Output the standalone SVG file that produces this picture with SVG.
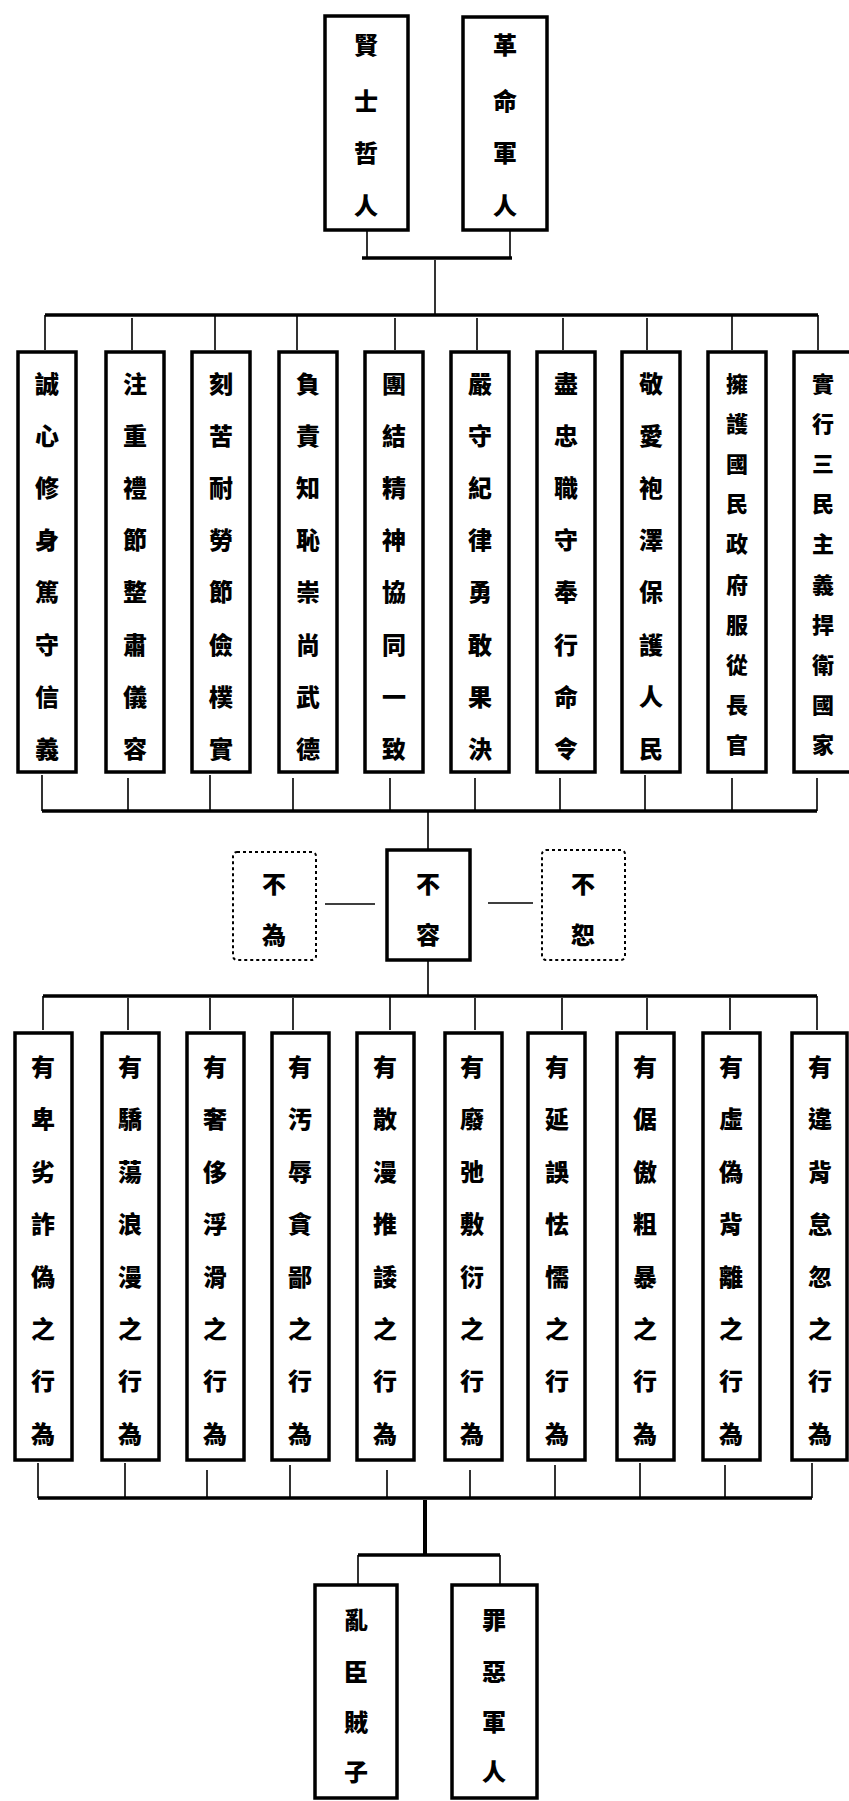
<svg xmlns="http://www.w3.org/2000/svg" width="849" height="1801" viewBox="0 0 849 1801">
<style>
.box{fill:none;stroke:#000;stroke-width:3.5}
.dot{fill:none;stroke:#000;stroke-width:2;stroke-dasharray:3 3}
.bus{stroke:#000;stroke-width:3.5;fill:none}
.tick{stroke:#000;stroke-width:1.6;fill:none}
.t{font-family:"Noto Sans CJK TC","Noto Sans CJK SC",sans-serif;font-weight:900;font-size:24px;text-anchor:middle;dominant-baseline:central;fill:#000}
.s{font-size:22px}
</style>
<rect width="849" height="1801" fill="#fff"/>
<g id="connectors">
<path class="tick" d="M367 230V258M510 230V258"/>
<path class="bus" d="M362 258H512"/>
<path class="tick" d="M435 260V315"/>
<path class="bus" d="M45 315H818"/>
<path class="tick" d="M45 315V350M132 318V350M215 315V350M297 315V350M395 318V350M477 318V350M563 318V350M647 318V350M732 315V350M818 315V350"/>
<path class="tick" d="M42 775V811M128 778V811M210 775V811M293 778V811M390 778V811M475 778V811M560 778V811M645 775V811M732 778V811M817 778V811"/>
<path class="bus" d="M42 811H817"/>
<path class="tick" d="M428 811V850M428 960V996"/>
<path class="tick" d="M325 904H375M488 903H533"/>
<path class="bus" d="M43 996H817"/>
<path class="tick" d="M43 996V1030M128 998V1030M210 998V1030M293 998V1030M390 996V1030M475 998V1030M562 998V1030M647 998V1030M730 998V1030M817 996V1030"/>
<path class="tick" d="M38 1463V1498M125 1463V1498M207 1470V1498M290 1465V1498M387 1470V1498M470 1470V1498M555 1465V1498M640 1463V1498M725 1465V1498M812 1463V1498"/>
<path class="bus" d="M38 1498H812"/>
<path class="bus" d="M425 1500V1555" style="stroke-width:4"/>
<path class="bus" d="M358 1555H500"/>
<path class="tick" d="M358 1555V1585M500 1555V1585"/>
</g>
<g id="n-xianshi"><rect class="box" x="325" y="16" width="83" height="214"/><text class="t"><tspan x="366" y="43">賢</tspan><tspan x="366" y="99">士</tspan><tspan x="366" y="151">哲</tspan><tspan x="366" y="204">人</tspan></text></g>
<g id="n-geming"><rect class="box" x="463" y="17" width="84" height="213"/><text class="t"><tspan x="505" y="43">革</tspan><tspan x="505" y="99">命</tspan><tspan x="505" y="151">軍</tspan><tspan x="505" y="204">人</tspan></text></g>

<g id="a1"><rect class="box" x="18" y="352" width="58" height="420"/><text class="t"><tspan x="47" y="382">誠</tspan><tspan x="47" y="434">心</tspan><tspan x="47" y="486">修</tspan><tspan x="47" y="538">身</tspan><tspan x="47" y="590">篤</tspan><tspan x="47" y="643">守</tspan><tspan x="47" y="695">信</tspan><tspan x="47" y="747">義</tspan></text></g>
<g id="a2"><rect class="box" x="106" y="352" width="58" height="420"/><text class="t"><tspan x="135" y="382">注</tspan><tspan x="135" y="434">重</tspan><tspan x="135" y="486">禮</tspan><tspan x="135" y="538">節</tspan><tspan x="135" y="590">整</tspan><tspan x="135" y="643">肅</tspan><tspan x="135" y="695">儀</tspan><tspan x="135" y="747">容</tspan></text></g>
<g id="a3"><rect class="box" x="192" y="352" width="58" height="420"/><text class="t"><tspan x="221" y="382">刻</tspan><tspan x="221" y="434">苦</tspan><tspan x="221" y="486">耐</tspan><tspan x="221" y="538">勞</tspan><tspan x="221" y="590">節</tspan><tspan x="221" y="643">儉</tspan><tspan x="221" y="695">樸</tspan><tspan x="221" y="747">實</tspan></text></g>
<g id="a4"><rect class="box" x="279" y="352" width="58" height="420"/><text class="t"><tspan x="308" y="382">負</tspan><tspan x="308" y="434">責</tspan><tspan x="308" y="486">知</tspan><tspan x="308" y="538">恥</tspan><tspan x="308" y="590">崇</tspan><tspan x="308" y="643">尚</tspan><tspan x="308" y="695">武</tspan><tspan x="308" y="747">德</tspan></text></g>
<g id="a5"><rect class="box" x="365" y="352" width="58" height="420"/><text class="t"><tspan x="394" y="382">團</tspan><tspan x="394" y="434">結</tspan><tspan x="394" y="486">精</tspan><tspan x="394" y="538">神</tspan><tspan x="394" y="590">協</tspan><tspan x="394" y="643">同</tspan><tspan x="394" y="695">一</tspan><tspan x="394" y="747">致</tspan></text></g>
<g id="a6"><rect class="box" x="451" y="352" width="58" height="420"/><text class="t"><tspan x="480" y="382">嚴</tspan><tspan x="480" y="434">守</tspan><tspan x="480" y="486">紀</tspan><tspan x="480" y="538">律</tspan><tspan x="480" y="590">勇</tspan><tspan x="480" y="643">敢</tspan><tspan x="480" y="695">果</tspan><tspan x="480" y="747">決</tspan></text></g>
<g id="a7"><rect class="box" x="537" y="352" width="58" height="420"/><text class="t"><tspan x="566" y="382">盡</tspan><tspan x="566" y="434">忠</tspan><tspan x="566" y="486">職</tspan><tspan x="566" y="538">守</tspan><tspan x="566" y="590">奉</tspan><tspan x="566" y="643">行</tspan><tspan x="566" y="695">命</tspan><tspan x="566" y="747">令</tspan></text></g>
<g id="a8"><rect class="box" x="622" y="352" width="58" height="420"/><text class="t"><tspan x="651" y="382">敬</tspan><tspan x="651" y="434">愛</tspan><tspan x="651" y="486">袍</tspan><tspan x="651" y="538">澤</tspan><tspan x="651" y="590">保</tspan><tspan x="651" y="643">護</tspan><tspan x="651" y="695">人</tspan><tspan x="651" y="747">民</tspan></text></g>
<g id="a9"><rect class="box" x="708" y="352" width="58" height="420"/><text class="t s"><tspan x="737" y="382">擁</tspan><tspan x="737" y="422">護</tspan><tspan x="737" y="462">國</tspan><tspan x="737" y="502">民</tspan><tspan x="737" y="542">政</tspan><tspan x="737" y="583">府</tspan><tspan x="737" y="623">服</tspan><tspan x="737" y="663">從</tspan><tspan x="737" y="703">長</tspan><tspan x="737" y="743">官</tspan></text></g>
<g id="a10"><rect class="box" x="794" y="352" width="58" height="420"/><text class="t s"><tspan x="823" y="382">實</tspan><tspan x="823" y="422">行</tspan><tspan x="823" y="462">三</tspan><tspan x="823" y="502">民</tspan><tspan x="823" y="542">主</tspan><tspan x="823" y="583">義</tspan><tspan x="823" y="623">捍</tspan><tspan x="823" y="663">衛</tspan><tspan x="823" y="703">國</tspan><tspan x="823" y="743">家</tspan></text></g>

<g id="b-buwei"><rect class="dot" x="233" y="852" width="83" height="108" rx="4"/><text class="t"><tspan x="274" y="882">不</tspan><tspan x="274" y="933">為</tspan></text></g>
<g id="b-burong"><rect class="box" x="387" y="850" width="83" height="110"/><text class="t"><tspan x="428" y="882">不</tspan><tspan x="428" y="933">容</tspan></text></g>
<g id="b-bushu"><rect class="dot" x="542" y="850" width="83" height="110" rx="4"/><text class="t"><tspan x="583" y="882">不</tspan><tspan x="583" y="933">恕</tspan></text></g>

<g id="c1"><rect class="box" x="15" y="1033" width="57" height="427"/><text class="t"><tspan x="43" y="1065">有</tspan><tspan x="43" y="1117">卑</tspan><tspan x="43" y="1170">劣</tspan><tspan x="43" y="1222">詐</tspan><tspan x="43" y="1275">偽</tspan><tspan x="43" y="1327">之</tspan><tspan x="43" y="1379">行</tspan><tspan x="43" y="1432">為</tspan></text></g>
<g id="c2"><rect class="box" x="102" y="1033" width="57" height="427"/><text class="t"><tspan x="130" y="1065">有</tspan><tspan x="130" y="1117">驕</tspan><tspan x="130" y="1170">蕩</tspan><tspan x="130" y="1222">浪</tspan><tspan x="130" y="1275">漫</tspan><tspan x="130" y="1327">之</tspan><tspan x="130" y="1379">行</tspan><tspan x="130" y="1432">為</tspan></text></g>
<g id="c3"><rect class="box" x="187" y="1033" width="57" height="427"/><text class="t"><tspan x="215" y="1065">有</tspan><tspan x="215" y="1117">奢</tspan><tspan x="215" y="1170">侈</tspan><tspan x="215" y="1222">浮</tspan><tspan x="215" y="1275">滑</tspan><tspan x="215" y="1327">之</tspan><tspan x="215" y="1379">行</tspan><tspan x="215" y="1432">為</tspan></text></g>
<g id="c4"><rect class="box" x="272" y="1033" width="57" height="427"/><text class="t"><tspan x="300" y="1065">有</tspan><tspan x="300" y="1117">汚</tspan><tspan x="300" y="1170">辱</tspan><tspan x="300" y="1222">貪</tspan><tspan x="300" y="1275">鄙</tspan><tspan x="300" y="1327">之</tspan><tspan x="300" y="1379">行</tspan><tspan x="300" y="1432">為</tspan></text></g>
<g id="c5"><rect class="box" x="357" y="1033" width="57" height="427"/><text class="t"><tspan x="385" y="1065">有</tspan><tspan x="385" y="1117">散</tspan><tspan x="385" y="1170">漫</tspan><tspan x="385" y="1222">推</tspan><tspan x="385" y="1275">諉</tspan><tspan x="385" y="1327">之</tspan><tspan x="385" y="1379">行</tspan><tspan x="385" y="1432">為</tspan></text></g>
<g id="c6"><rect class="box" x="445" y="1033" width="57" height="427"/><text class="t"><tspan x="472" y="1065">有</tspan><tspan x="472" y="1117">廢</tspan><tspan x="472" y="1170">弛</tspan><tspan x="472" y="1222">敷</tspan><tspan x="472" y="1275">衍</tspan><tspan x="472" y="1327">之</tspan><tspan x="472" y="1379">行</tspan><tspan x="472" y="1432">為</tspan></text></g>
<g id="c7"><rect class="box" x="528" y="1033" width="57" height="427"/><text class="t"><tspan x="557" y="1065">有</tspan><tspan x="557" y="1117">延</tspan><tspan x="557" y="1170">誤</tspan><tspan x="557" y="1222">怯</tspan><tspan x="557" y="1275">懦</tspan><tspan x="557" y="1327">之</tspan><tspan x="557" y="1379">行</tspan><tspan x="557" y="1432">為</tspan></text></g>
<g id="c8"><rect class="box" x="617" y="1033" width="57" height="427"/><text class="t"><tspan x="645" y="1065">有</tspan><tspan x="645" y="1117">倨</tspan><tspan x="645" y="1170">傲</tspan><tspan x="645" y="1222">粗</tspan><tspan x="645" y="1275">暴</tspan><tspan x="645" y="1327">之</tspan><tspan x="645" y="1379">行</tspan><tspan x="645" y="1432">為</tspan></text></g>
<g id="c9"><rect class="box" x="703" y="1033" width="57" height="427"/><text class="t"><tspan x="731" y="1065">有</tspan><tspan x="731" y="1117">虛</tspan><tspan x="731" y="1170">偽</tspan><tspan x="731" y="1222">背</tspan><tspan x="731" y="1275">離</tspan><tspan x="731" y="1327">之</tspan><tspan x="731" y="1379">行</tspan><tspan x="731" y="1432">為</tspan></text></g>
<g id="c10"><rect class="box" x="792" y="1033" width="55" height="427"/><text class="t"><tspan x="820" y="1065">有</tspan><tspan x="820" y="1117">違</tspan><tspan x="820" y="1170">背</tspan><tspan x="820" y="1222">怠</tspan><tspan x="820" y="1275">忽</tspan><tspan x="820" y="1327">之</tspan><tspan x="820" y="1379">行</tspan><tspan x="820" y="1432">為</tspan></text></g>

<g id="d-luanchen"><rect class="box" x="315" y="1585" width="82" height="213"/><text class="t"><tspan x="356" y="1618">亂</tspan><tspan x="356" y="1670">臣</tspan><tspan x="356" y="1720">賊</tspan><tspan x="356" y="1770">子</tspan></text></g>
<g id="d-zuie"><rect class="box" x="452" y="1585" width="85" height="213"/><text class="t"><tspan x="494" y="1618">罪</tspan><tspan x="494" y="1670">惡</tspan><tspan x="494" y="1720">軍</tspan><tspan x="494" y="1770">人</tspan></text></g>
</svg>
